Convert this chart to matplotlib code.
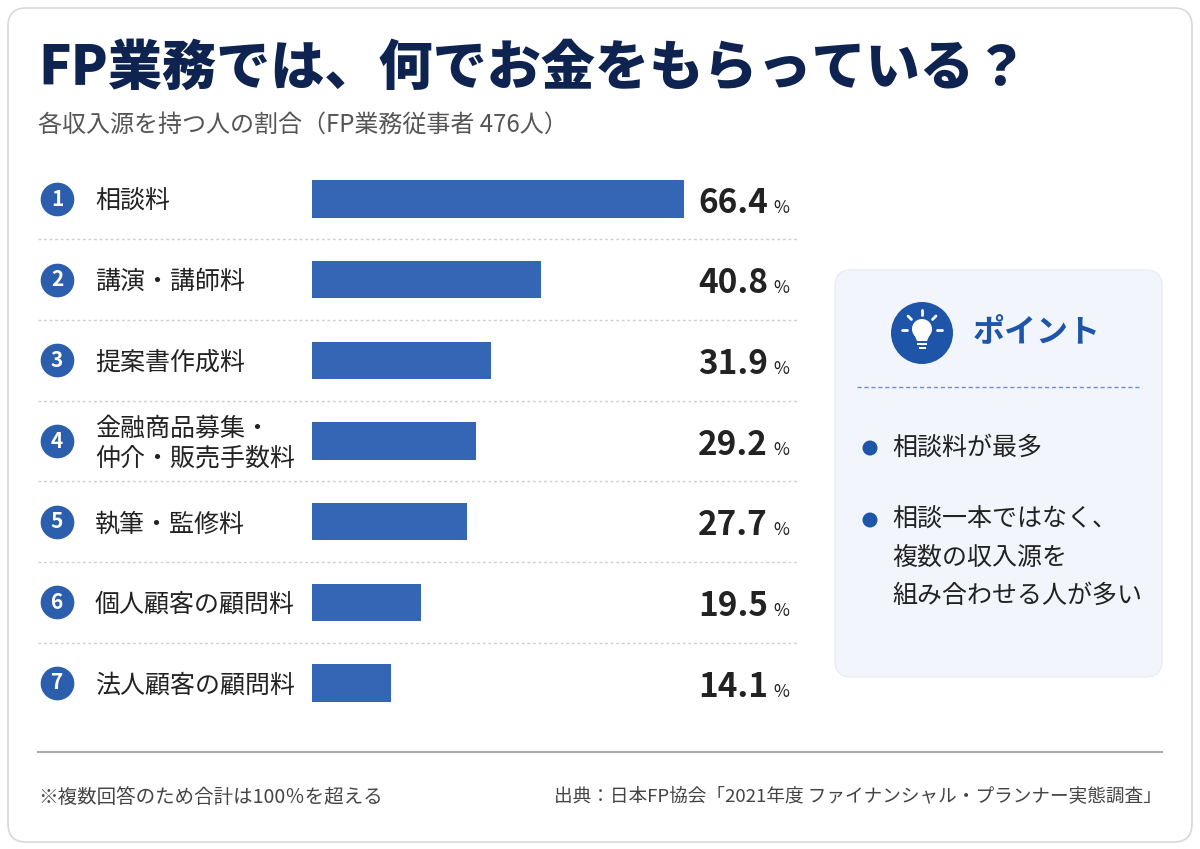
import matplotlib
matplotlib.use("Agg")
import matplotlib.pyplot as plt
from matplotlib.patches import FancyBboxPatch, Circle, Polygon, Rectangle
from matplotlib.lines import Line2D
from matplotlib.transforms import blended_transform_factory

plt.rcParams['font.family'] = ['Noto Sans CJK JP', 'DejaVu Sans']

# data
ranks = ["1", "2", "3", "4", "5", "6", "7"]
labels = ["相談料", "講演・講師料", "提案書作成料", "金融商品募集・\n仲介・販売手数料",
          "執筆・監修料", "個人顧客の顧問料", "法人顧客の顧問料"]
values = [66.4, 40.8, 31.9, 29.2, 27.7, 19.5, 14.1]

title = "FP業務では、何でお金をもらっている？"
subtitle = "各収入源を持つ人の割合（FP業務従事者 476人）"
point_title = "ポイント"
point_lines = ["相談料が最多", "相談一本ではなく、\n複数の収入源を\n組み合わせる人が多い"]
note = "※複数回答のため合計は100％を超える"
source = "出典：日本FP協会「2021年度 ファイナンシャル・プランナー実態調査」"

BLUE = "#3566b5"
DARK_BLUE = "#1f55a8"
NAVY = "#0e2350"
TXT = "#222222"

W, H = 1200, 849
fig = plt.figure(figsize=(12, 8.49), dpi=100)
fig.patch.set_facecolor("white")

# background axes in pixel units
bg = fig.add_axes([0, 0, 1, 1])
bg.set_xlim(0, W)
bg.set_ylim(H, 0)
bg.axis("off")

bg.add_patch(FancyBboxPatch((8, 8), 1184, 834, boxstyle="round,pad=0,rounding_size=18",
                            fc="white", ec="#d8d8d8", lw=1.2))

bg.text(38, 68, title, fontsize=39, fontweight="heavy", color=NAVY, va="center", ha="left")
bg.text(38, 125, subtitle, fontsize=17.3, color="#555555", va="center", ha="left")

# point box
bg.add_patch(FancyBboxPatch((835, 270), 327, 407, boxstyle="round,pad=0,rounding_size=16",
                            fc="#f2f6fc", ec="#e8edf6", lw=1))
bg.add_patch(Circle((922, 333), 31, fc=DARK_BLUE, ec="none"))
# bulb icon
bg.add_patch(Circle((922, 329), 10, fc="white", ec="none"))
bg.add_patch(Polygon([(914, 334), (930, 334), (927, 341), (917, 341)], closed=True, fc="white", ec="none"))
bg.add_patch(Rectangle((917, 342.5), 10, 2.5, fc="white", ec="none"))
bg.add_patch(Rectangle((918.5, 346.5), 7, 2.5, fc="white", ec="none"))
for x0, y0, x1, y1 in [(922, 310, 922, 315), (908, 316, 911.5, 319.5), (936, 316, 932.5, 319.5),
                       (902, 330, 907, 330), (937, 330, 942, 330)]:
    bg.plot([x0, x1], [y0, y1], color="white", lw=2, solid_capstyle="round")
bg.text(973, 333, point_title, fontsize=23, fontweight="bold", color=DARK_BLUE, va="center", ha="left")
bg.plot([857, 1142], [387, 387], color="#6a90cc", lw=1, linestyle=(0, (3, 2)))

bullet_y = [448, 520]
for by, txt in zip(bullet_y, point_lines):
    bg.add_patch(Circle((870, by), 7.5, fc=DARK_BLUE, ec="none"))
    bg.text(892, by - 13, txt, fontsize=18, color=TXT, va="top", ha="left", linespacing=1.6)

# footer
bg.plot([38, 1162], [752, 752], color="#aaaaaa", lw=1.5)
bg.text(38, 797, note, fontsize=14, color="#444444", va="center", ha="left")
bg.text(1162, 797, source, fontsize=13.4, color="#444444", va="center", ha="right")

# bar axes
top, bottom = 158.7, 723.3
left, right = 312, 800
ax = fig.add_axes([left / W, 1 - bottom / H, (right - left) / W, (bottom - top) / H])
ax.set_facecolor("none")
y = list(range(len(values)))
ax.barh(y, values, height=0.46, color=BLUE)
ax.set_xlim(0, 87)
ax.set_ylim(len(values) - 0.5, -0.5)
ax.axis("off")

tr = blended_transform_factory(bg.transData, ax.transData)

for i in y[:-1]:
    ax.add_line(Line2D([38, 797], [i + 0.5, i + 0.5], transform=tr, color="#cfcfcf",
                       lw=1, linestyle=(0, (2, 2)), clip_on=False))

ax.scatter([57] * len(y), y, s=540, color="#2c5eae", transform=tr, clip_on=False, zorder=3)
for i, r in zip(y, ranks):
    ax.text(57, i, r, transform=tr, color="white", fontsize=15, fontweight="bold",
            ha="center", va="center", zorder=4)

for i, lab in zip(y, labels):
    ax.text(95, i + 0.03, lab, transform=tr, color=TXT, fontsize=18, ha="left", va="center",
            linespacing=1.2)

for i, v in zip(y, values):
    ax.text(768, i + 0.17, f"{v:.1f}", transform=tr, color=TXT, fontsize=24,
            fontweight="bold", ha="right", va="baseline")
    ax.text(773, i + 0.17, "%", transform=tr, color=TXT, fontsize=12.5, ha="left",
            va="baseline")

fig.savefig("out.png", dpi=100)
